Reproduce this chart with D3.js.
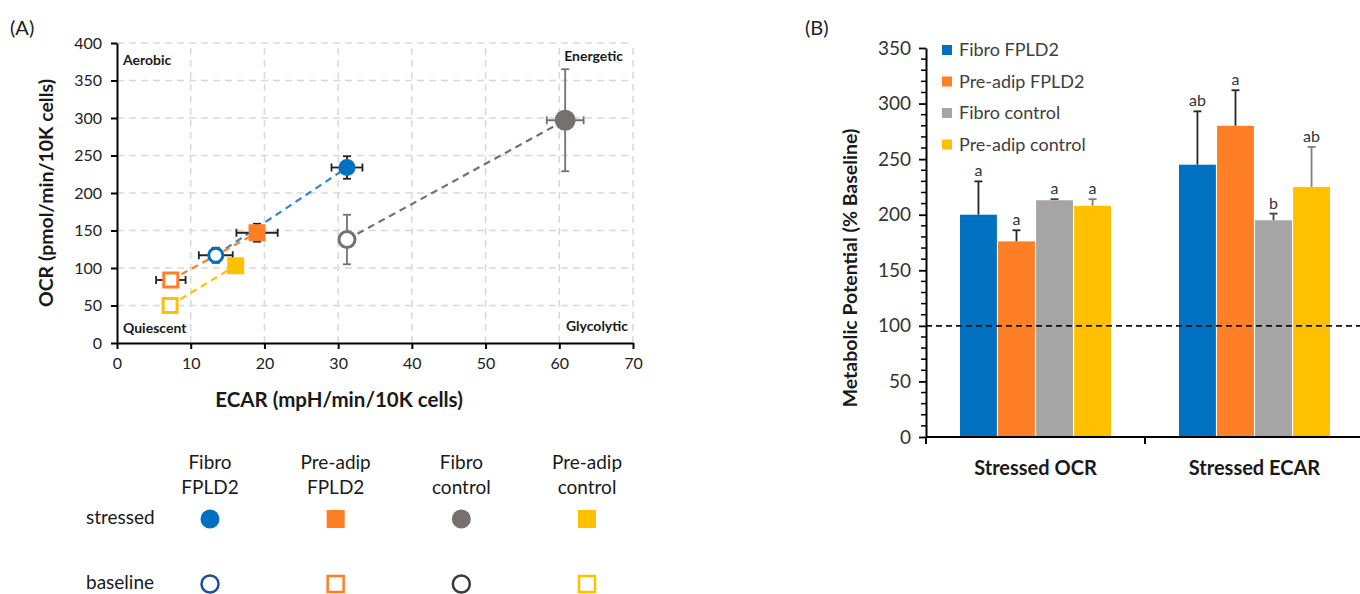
<!DOCTYPE html>
<html>
<head>
<meta charset="utf-8">
<title>Metabolic phenotype and potential</title>
<script src="https://cdn.jsdelivr.net/npm/d3@7/dist/d3.min.js"></script>
<style>
  body { margin: 0; padding: 0; background: #ffffff; }
  svg { display: block; font-family: Lato, "Open Sans", sans-serif; }
</style>
</head>
<body>
<svg id="chart" width="1360" height="594"></svg>
<script>
// Groups shared by both panels
const groups = ["Fibro FPLD2", "Pre-adip FPLD2", "Fibro control", "Pre-adip control"];
const groupHeaderLines = [["Fibro", "FPLD2"], ["Pre-adip", "FPLD2"], ["Fibro", "control"], ["Pre-adip", "control"]];
const groupShapes = ["circle", "square", "circle", "square"];

// Panel A: energy map values (ECAR on x, OCR on y)
const stressedECAR = [31.2, 19.0, 60.8, 16.1];
const stressedECARErr = [2.1, 2.8, 2.5, 0];
const stressedOCR = [234, 147, 297, 103];
const stressedOCRErr = [15, 12, 68, 0];
const baselineECAR = [13.4, 7.3, 31.2, 7.2];
const baselineECARErr = [2.3, 2.0, 0, 0];
const baselineOCR = [117, 84, 138, 50];
const baselineOCRErr = [10, 0, 33, 0];
const ecarTicks = [0, 10, 20, 30, 40, 50, 60, 70];
const ocrTicks = [0, 50, 100, 150, 200, 250, 300, 350, 400];
const quadrantLabels = ["Aerobic", "Energetic", "Quiescent", "Glycolytic"];
const legendRows = ["stressed", "baseline"];

// Panel B: metabolic potential (% baseline)
const barCategories = ["Stressed OCR", "Stressed ECAR"];
const ocrPotential = [200, 176, 213, 208];
const ocrPotentialErr = [30, 10, 1, 6];
const ecarPotential = [245, 280, 195, 225];
const ecarPotentialErr = [48, 32, 6, 36];
const ocrLetters = ["a", "a", "a", "a"];
const ecarLetters = ["ab", "a", "b", "ab"];
const potentialTicks = [0, 50, 100, 150, 200, 250, 300, 350];
const baselineLevel = 100;

// Colours
const scatterColors = ["#0070C0", "#FF7F27", "#767171", "#FFC000"];
const legendOpenColors = ["#1F4E99", "#FF7F27", "#3B3838", "#FFC000"];
const barColors = ["#0070C0", "#FF7F27", "#A5A5A5", "#FFC000"];
const errColorsA = ["#222222", "#222222", "#767171", "#222222"];
const errColorsB = ["#262626", "#262626", "#404040", "#7F7F7F"];

const svg = d3.select("#chart");

// ---------------- Panel A ----------------
const ax = d3.scaleLinear().domain([0, 70]).range([117, 633]);
const ay = d3.scaleLinear().domain([0, 400]).range([343, 43]);

svg.append("text").attr("x", 10).attr("y", 35)
  .attr("font-size", 20).attr("fill", "#222").text("(A)");

// dashed grid lines
const gridA = svg.append("g");
gridA.selectAll("line.vx").data(ecarTicks.slice(1)).join("line")
  .attr("x1", d => ax(d)).attr("x2", d => ax(d))
  .attr("y1", ay(0)).attr("y2", ay(400))
  .attr("stroke", "#D9D9D9").attr("stroke-width", 1.5).attr("stroke-dasharray", "7,5");
gridA.selectAll("line.hy").data(ocrTicks.slice(1)).join("line")
  .attr("x1", ax(0)).attr("x2", ax(70))
  .attr("y1", d => ay(d)).attr("y2", d => ay(d))
  .attr("stroke", "#D9D9D9").attr("stroke-width", 1.5).attr("stroke-dasharray", "7,5");

// axes
const xAxisA = svg.append("g").attr("transform", `translate(0,${ay(0)})`)
  .call(d3.axisBottom(ax).tickValues(ecarTicks).tickSize(6).tickPadding(9).tickSizeOuter(0));
const yAxisA = svg.append("g").attr("transform", `translate(${ax(0)},0)`)
  .call(d3.axisLeft(ay).tickValues(ocrTicks).tickSize(6).tickPadding(9).tickSizeOuter(0));
[xAxisA, yAxisA].forEach(g => {
  g.select(".domain").attr("stroke", "#000").attr("stroke-width", 2);
  g.selectAll(".tick line").attr("stroke", "#000").attr("stroke-width", 2);
  g.selectAll(".tick text").attr("font-size", 16).attr("fill", "#222").attr("font-family", "Lato, sans-serif");
});

// axis titles
svg.append("text").attr("x", 339).attr("y", 407).attr("text-anchor", "middle")
  .attr("font-size", 20.5).attr("font-weight", "bold").attr("fill", "#1a1a1a")
  .text("ECAR (mpH/min/10K cells)");
svg.append("text").attr("transform", "translate(53,193) rotate(-90)").attr("text-anchor", "middle")
  .attr("font-size", 19.5).attr("font-weight", "bold").attr("fill", "#1a1a1a")
  .text("OCR (pmol/min/10K cells)");

// quadrant labels
const quadPos = [
  { x: 123, y: 65, anchor: "start" },
  { x: 623, y: 61, anchor: "end" },
  { x: 123, y: 333, anchor: "start" },
  { x: 628, y: 331, anchor: "end" }
];
svg.append("g").selectAll("text").data(quadrantLabels).join("text")
  .attr("x", (d, i) => quadPos[i].x).attr("y", (d, i) => quadPos[i].y)
  .attr("text-anchor", (d, i) => quadPos[i].anchor)
  .attr("font-size", 14).attr("font-weight", "bold").attr("fill", "#1a1a1a")
  .text(d => d);

// connecting dashed lines baseline -> stressed
svg.append("g").selectAll("line").data(groups).join("line")
  .attr("x1", (d, i) => ax(baselineECAR[i])).attr("y1", (d, i) => ay(baselineOCR[i]))
  .attr("x2", (d, i) => ax(stressedECAR[i])).attr("y2", (d, i) => ay(stressedOCR[i]))
  .attr("stroke", (d, i) => i === 0 ? "#2F86DA" : scatterColors[i])
  .attr("stroke-width", 2.2).attr("stroke-dasharray", "7,5");

// error bars
function drawErrors(ecar, ecarErr, ocr, ocrErr) {
  const g = svg.append("g");
  groups.forEach((grp, i) => {
    const cx = ax(ecar[i]), cy = ay(ocr[i]);
    const col = errColorsA[i];
    if (ecarErr[i] > 0) {
      g.append("line").attr("x1", ax(ecar[i] - ecarErr[i])).attr("x2", ax(ecar[i] + ecarErr[i]))
        .attr("y1", cy).attr("y2", cy).attr("stroke", col).attr("stroke-width", 1.8);
      [ecar[i] - ecarErr[i], ecar[i] + ecarErr[i]].forEach(v => {
        g.append("line").attr("x1", ax(v)).attr("x2", ax(v)).attr("y1", cy - 4).attr("y2", cy + 4)
          .attr("stroke", col).attr("stroke-width", 1.8);
      });
    }
    if (ocrErr[i] > 0) {
      g.append("line").attr("x1", cx).attr("x2", cx)
        .attr("y1", ay(ocr[i] - ocrErr[i])).attr("y2", ay(ocr[i] + ocrErr[i]))
        .attr("stroke", col).attr("stroke-width", 1.8);
      [ocr[i] - ocrErr[i], ocr[i] + ocrErr[i]].forEach(v => {
        g.append("line").attr("x1", cx - 4).attr("x2", cx + 4).attr("y1", ay(v)).attr("y2", ay(v))
          .attr("stroke", col).attr("stroke-width", 1.8);
      });
    }
  });
}
drawErrors(baselineECAR, baselineECARErr, baselineOCR, baselineOCRErr);
drawErrors(stressedECAR, stressedECARErr, stressedOCR, stressedOCRErr);

// marker helper
function drawMarker(g, shape, cx, cy, size, filled, color, sw) {
  if (shape === "circle") {
    g.append("circle").attr("cx", cx).attr("cy", cy).attr("r", size / 2)
      .attr("fill", filled ? color : "#fff")
      .attr("stroke", filled ? "none" : color).attr("stroke-width", sw);
  } else {
    g.append("rect").attr("x", cx - size / 2).attr("y", cy - size / 2)
      .attr("width", size).attr("height", size)
      .attr("fill", filled ? color : "#fff")
      .attr("stroke", filled ? "none" : color).attr("stroke-width", sw);
  }
}

const markersA = svg.append("g");
const stressedSizes = [17, 17, 21, 17];
const baselineSizes = [14, 14, 16, 14];
groups.forEach((grp, i) => {
  drawMarker(markersA, groupShapes[i], ax(baselineECAR[i]), ay(baselineOCR[i]), baselineSizes[i], false, scatterColors[i], 3);
  drawMarker(markersA, groupShapes[i], ax(stressedECAR[i]), ay(stressedOCR[i]), stressedSizes[i], true, scatterColors[i], 0);
});

// legend table under panel A
const legendX = d3.scalePoint().domain(groups).range([210, 587]);
const legendY = d3.scalePoint().domain(legendRows).range([519, 584]);
const legend = svg.append("g").attr("font-size", 19).attr("fill", "#1a1a1a");
legend.selectAll("text.hdr").data(groups).join("text")
  .attr("text-anchor", "middle")
  .attr("x", d => legendX(d)).attr("y", 469)
  .each(function (d, i) {
    d3.select(this).selectAll("tspan").data(groupHeaderLines[i]).join("tspan")
      .attr("x", legendX(d)).attr("dy", (t, j) => j === 0 ? 0 : 25).text(t => t);
  });
legend.selectAll("text.row").data(legendRows).join("text")
  .attr("x", 86).attr("y", d => legendY(d) + 5).text(d => d);
groups.forEach((grp, i) => {
  drawMarker(legend, groupShapes[i], legendX(grp), legendY("stressed"), groupShapes[i] === "circle" ? 19 : 18, true, scatterColors[i], 0);
  drawMarker(legend, groupShapes[i], legendX(grp), legendY("baseline"), groupShapes[i] === "circle" ? 17 : 16, false, legendOpenColors[i], 2.5);
});

// ---------------- Panel B ----------------
const by = d3.scaleLinear().domain([0, 350]).range([437, 48]);
const bx = d3.scaleBand().domain(barCategories).range([926, 1364]);
const bInner = d3.scaleBand().domain(groups).range([34, 185]).paddingInner(0.03);

svg.append("text").attr("x", 805).attr("y", 35)
  .attr("font-size", 20).attr("fill", "#222").text("(B)");

const barValues = [ocrPotential, ecarPotential];
const barErrs = [ocrPotentialErr, ecarPotentialErr];
const barLetters = [ocrLetters, ecarLetters];

// bars
const barG = svg.append("g");
barCategories.forEach((cat, c) => {
  groups.forEach((grp, i) => {
    const x0 = bx(cat) + bInner(grp);
    const w = bInner.bandwidth();
    const v = barValues[c][i];
    const e = barErrs[c][i];
    const xc = x0 + w / 2;
    // error bar (upper only)
    barG.append("line").attr("x1", xc).attr("x2", xc).attr("y1", by(v)).attr("y2", by(v + e))
      .attr("stroke", errColorsB[i]).attr("stroke-width", 1.8);
    barG.append("line").attr("x1", xc - 4).attr("x2", xc + 4).attr("y1", by(v + e)).attr("y2", by(v + e))
      .attr("stroke", errColorsB[i]).attr("stroke-width", 1.8);
    barG.append("rect").attr("x", x0).attr("y", by(v))
      .attr("width", w).attr("height", by(0) - by(v))
      .attr("fill", barColors[i]);
    // significance letter
    barG.append("text").attr("x", xc).attr("y", by(v + e) - 5)
      .attr("text-anchor", "middle").attr("font-size", 16).attr("fill", "#333")
      .text(barLetters[c][i]);
  });
});

// dashed 100% baseline
svg.append("line").attr("x1", 926).attr("x2", 1360)
  .attr("y1", by(baselineLevel)).attr("y2", by(baselineLevel))
  .attr("stroke", "#111").attr("stroke-width", 1.6).attr("stroke-dasharray", "6,4");

// y axis with minor ticks
const yAxisB = svg.append("g").attr("transform", "translate(926,0)")
  .call(d3.axisLeft(by).tickValues(potentialTicks).tickSize(7).tickPadding(8).tickSizeOuter(0));
yAxisB.select(".domain").attr("stroke", "#000").attr("stroke-width", 2);
yAxisB.selectAll(".tick line").attr("stroke", "#000").attr("stroke-width", 1.8);
yAxisB.selectAll(".tick text").attr("font-size", 19).attr("fill", "#333").attr("font-family", "Lato, sans-serif");
svg.append("g").selectAll("line").data(d3.range(0, 351, 10).filter(v => v % 50 !== 0)).join("line")
  .attr("x1", 921).attr("x2", 926).attr("y1", d => by(d)).attr("y2", d => by(d))
  .attr("stroke", "#000").attr("stroke-width", 1.5);

// x axis line and category divider
svg.append("line").attr("x1", 926).attr("x2", 1360).attr("y1", 437).attr("y2", 437)
  .attr("stroke", "#000").attr("stroke-width", 2);
svg.append("g").selectAll("line").data(barCategories).join("line")
  .attr("x1", d => bx(d)).attr("x2", d => bx(d)).attr("y1", 437).attr("y2", 444)
  .attr("stroke", "#000").attr("stroke-width", 2);
svg.append("g").selectAll("text").data(barCategories).join("text")
  .attr("x", d => bx(d) + bInner.range()[0] + (bInner.range()[1] - bInner.range()[0]) / 2)
  .attr("y", 475).attr("text-anchor", "middle")
  .attr("font-size", 20).attr("font-weight", "bold").attr("fill", "#1a1a1a")
  .text(d => d);

// y axis title
svg.append("text").attr("transform", "translate(857,268) rotate(-90)").attr("text-anchor", "middle")
  .attr("font-size", 19.5).attr("font-weight", "bold").attr("fill", "#1a1a1a")
  .text("Metabolic Potential (% Baseline)");

// legend in panel B
const legendB = svg.append("g");
legendB.selectAll("rect").data(groups).join("rect")
  .attr("x", 942).attr("y", (d, i) => 45 + i * 31.5)
  .attr("width", 10).attr("height", 10)
  .attr("fill", (d, i) => barColors[i]);
legendB.selectAll("text").data(groups).join("text")
  .attr("x", 959).attr("y", (d, i) => 56 + i * 31.5)
  .attr("font-size", 18).attr("fill", "#404040")
  .text(d => d);
</script>
</body>
</html>
